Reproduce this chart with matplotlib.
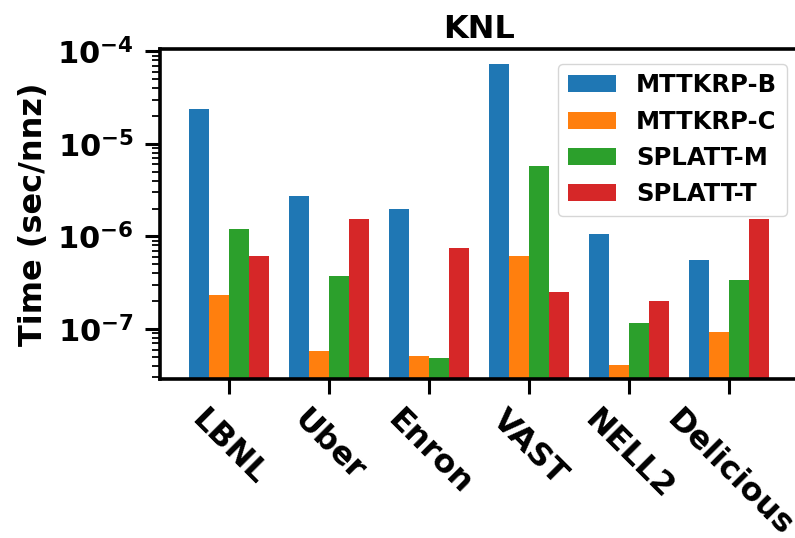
import numpy as np
import matplotlib
matplotlib.use("Agg")
import matplotlib.pyplot as plt

# data (sec/nnz)
datasets = ["LBNL", "Uber", "Enron", "VAST", "NELL2", "Delicious"]
mttkrp_b = [2.40e-5, 2.74e-6, 1.98e-6, 7.36e-5, 1.06e-6, 5.55e-7]
mttkrp_c = [2.32e-7, 5.78e-8, 5.10e-8, 6.12e-7, 4.08e-8, 9.30e-8]
splatt_m = [1.20e-6, 3.73e-7, 4.85e-8, 5.78e-6, 1.16e-7, 3.37e-7]
splatt_t = [6.12e-7, 1.54e-6, 7.46e-7, 2.51e-7, 2.01e-7, 1.54e-6]
labels = ["MTTKRP-B", "MTTKRP-C", "SPLATT-M", "SPLATT-T"]

plt.rcParams['font.weight'] = 'bold'
plt.rcParams['axes.labelweight'] = 'bold'
plt.rcParams['axes.titleweight'] = 'bold'
plt.rcParams['mathtext.default'] = 'bf'

fig = plt.figure(figsize=(7.95, 5.38), dpi=100)
ax = fig.add_axes([160/795, 1-379/538, 638/795, 330/538])

x = np.arange(len(datasets))
w = 0.2
series = [mttkrp_b, mttkrp_c, splatt_m, splatt_t]
for i, (vals, lab) in enumerate(zip(series, labels)):
    ax.bar(x + (i - 1.5)*w, vals, w, label=lab, color="C%d" % i)

ax.set_yscale("log")
ax.set_ylim(2.88e-8, 1.06e-4)
ax.set_xlim(-0.69, 5.69)
ax.set_xticks(x)
ax.set_xticklabels(datasets, rotation=-45, fontsize=23, fontweight='bold')
ax.tick_params(axis='y', labelsize=22, pad=8)
ax.tick_params(axis='x', pad=7)
ax.tick_params(axis='both', which='major', length=11, width=2.2)
ax.tick_params(axis='y', which='minor', length=6, width=1.3)
for s in ax.spines.values():
    s.set_linewidth(2.6)

ax.set_ylabel("Time (sec/nnz)", fontsize=23, labelpad=6)
ax.set_title("KNL", fontsize=23, pad=8)
ax.legend(loc='upper right', fontsize=17.5, handlelength=2.0,
          bbox_to_anchor=(0.99, 0.97), borderaxespad=0.2)

fig.savefig("out.png", dpi=100)
